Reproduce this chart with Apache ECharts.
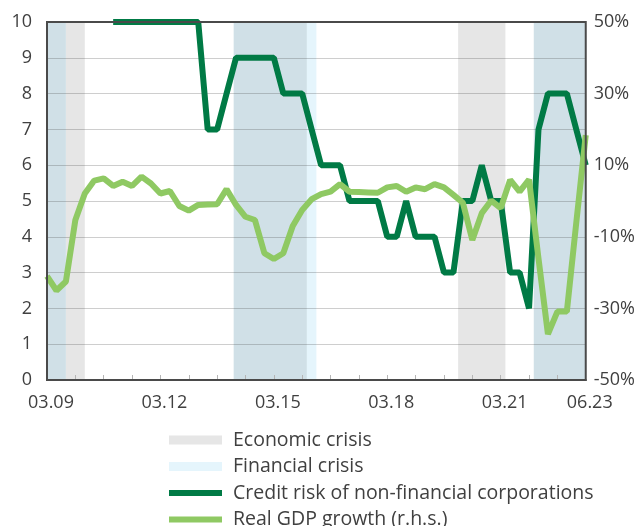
<!DOCTYPE html>
<html>
<head>
<meta charset="utf-8">
<script src="https://cdn.jsdelivr.net/npm/echarts@6/dist/echarts.min.js"></script>
<style>
  html, body { margin: 0; padding: 0; background: #fff; }
  #chart { width: 638px; height: 526px; }
</style>
</head>
<body>
<div id="chart"></div>
<script>
// quarterly categories, 03.09 .. 06.23
const quarters = [
  '03.09', '06.09', '09.09', '12.09', '03.10', '06.10', '09.10', '12.10',
  '03.11', '06.11', '09.11', '12.11', '03.12', '06.12', '09.12', '12.12',
  '03.13', '06.13', '09.13', '12.13', '03.14', '06.14', '09.14', '12.14',
  '03.15', '06.15', '09.15', '12.15', '03.16', '06.16', '09.16', '12.16',
  '03.17', '06.17', '09.17', '12.17', '03.18', '06.18', '09.18', '12.18',
  '03.19', '06.19', '09.19', '12.19', '03.20', '06.20', '09.20', '12.20',
  '03.21', '06.21', '09.21', '12.21', '03.22', '06.22', '09.22', '12.22',
  '03.23', '06.23'
]
const shownLabels = ['03.09', '03.12', '03.15', '03.18', '03.21', '06.23']

// credit risk of non-financial corporations (l.h.s.)
const creditRisk = [
  null, null, null, null, null, null, null, 10,
  10, 10, 10, 10, 10, 10, 10, 10,
  10, 7, 7, 8, 9, 9, 9, 9,
  9, 8, 8, 8, 7, 6, 6, 6,
  5, 5, 5, 5, 4, 4, 5, 4,
  4, 4, 3, 3, 5, 5, 6, 5,
  5, 3, 3, 2, 7, 8, 8, 8,
  7, 6
]

// real GDP growth, % (r.h.s.)
const gdpGrowth = [
  -21, -25, -22.5, -5.3, 2.1, 5.7, 6.3, 4.2,
  5.4, 4.2, 6.8, 4.9, 2.1, 2.8, -1.4, -2.7,
  -1.1, -1.0, -0.9, 3.3, -1.1, -4.4, -5.3, -14.6,
  -16.2, -14.6, -7.0, -2.5, 0.5, 1.9, 2.6, 4.7,
  2.6, 2.5, 2.4, 2.3, 3.8, 4.2, 2.6, 3.8,
  3.3, 4.7, 3.8, 1.7, -0.5, -10.9, -3.4, 0.1,
  -2.0, 5.9, 2.6, 6.0, -16, -37.2, -30.9, -30.9,
  -6, 18.4
]

// crisis periods, in quarter positions from 03.09
const economicCrisis = [[2, 4], [43.5, 48.5]]
const financialCrisis = [[27.5, 28.5]]
const bothCrises = [[0, 2], [19.75, 27.5], [51.5, 57]]

const textColor = '#404040'
const axisColor = '#4a4a4a'
const font = '"Open Sans", "Noto Sans", sans-serif'
const barIcon = 'path://M0,0H53V6H0Z'

const chart = echarts.init(document.getElementById('chart'))

function areas(list, color) {
  return list.map(b => [{ xAxis: b[0], itemStyle: { color: color } }, { xAxis: b[1] }])
}

chart.setOption({
  animation: false,
  textStyle: { fontFamily: font, color: textColor },
  grid: {
    left: 47,
    right: 51,
    top: 22,
    bottom: 146,
    show: true,
    borderWidth: 2,
    borderColor: axisColor,
    z: 5
  },
  legend: {
    orient: 'vertical',
    left: 169,
    top: 430,
    height: 120,
    padding: 0,
    itemWidth: 53,
    itemHeight: 9,
    itemGap: 6.5,
    textStyle: { fontSize: 19.5, color: textColor, padding: [0, 0, 0, 6], fontFamily: font },
    data: [
      { name: 'Economic crisis', icon: 'rect', itemStyle: { color: '#e6e6e6' } },
      { name: 'Financial crisis', icon: 'rect', itemStyle: { color: '#e5f5fc' } },
      { name: 'Credit risk of non-financial corporations', icon: barIcon, itemStyle: { color: '#007a45' } },
      { name: 'Real GDP growth (r.h.s.)', icon: barIcon, itemStyle: { color: '#8fc963' } }
    ]
  },
  xAxis: [{
    type: 'category',
    data: quarters,
    boundaryGap: false,
    axisLine: { lineStyle: { color: axisColor, width: 2 } },
    axisTick: {
      inside: true,
      length: 5,
      interval: (i) => i % 3 === 0,
      lineStyle: { color: '#b5b5b5' }
    },
    axisLabel: {
      interval: (i, v) => shownLabels.includes(v),
      margin: 14,
      fontSize: 18,
      color: textColor,
      padding: [0, 0, 0, 8]
    },
    splitLine: { show: false }
  }, {
    type: 'value',
    show: false,
    min: 0,
    max: quarters.length - 1
  }],
  yAxis: [{
    type: 'value',
    min: 0,
    max: 10,
    interval: 1,
    axisLine: { show: false },
    axisTick: { show: false },
    axisLabel: { margin: 15, fontSize: 18, color: textColor },
    splitLine: { lineStyle: { color: 'rgba(60,60,60,0.25)', width: 1 } }
  }, {
    type: 'value',
    min: -50,
    max: 50,
    interval: 20,
    axisLine: { show: false },
    axisTick: { show: false },
    axisLabel: { margin: 8, fontSize: 18, color: textColor, formatter: '{value}%' },
    splitLine: { show: false }
  }],
  series: [{
    name: 'Economic crisis',
    type: 'line',
    xAxisIndex: 1,
    data: [],
    z: -1,
    itemStyle: { color: '#e6e6e6' },
    markArea: { silent: true, z: -1, data: areas(economicCrisis, '#e6e6e6').concat(areas(bothCrises, '#d0e0e7')) }
  }, {
    name: 'Financial crisis',
    type: 'line',
    xAxisIndex: 1,
    data: [],
    z: -1,
    itemStyle: { color: '#e5f5fc' },
    markArea: { silent: true, z: -1, data: areas(financialCrisis, '#e5f5fc') }
  }, {
    name: 'Credit risk of non-financial corporations',
    type: 'line',
    data: creditRisk,
    yAxisIndex: 0,
    symbol: 'none',
    lineStyle: { color: '#007a45', width: 6 },
    itemStyle: { color: '#007a45' }
  }, {
    name: 'Real GDP growth (r.h.s.)',
    type: 'line',
    data: gdpGrowth,
    yAxisIndex: 1,
    symbol: 'none',
    lineStyle: { color: '#8fc963', width: 6 },
    itemStyle: { color: '#8fc963' }
  }]
})
</script>
</body>
</html>
